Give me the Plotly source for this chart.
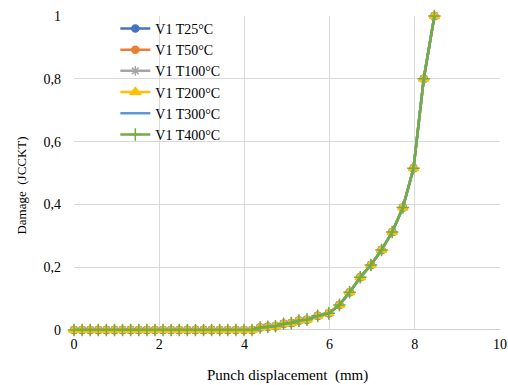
import plotly.graph_objects as go

displacement = [0, 0.19, 0.38, 0.57, 0.76, 0.95, 1.14, 1.33, 1.52, 1.71, 1.9, 2.09,
                2.28, 2.47, 2.66, 2.85, 3.04, 3.23, 3.42, 3.61, 3.8, 3.99, 4.18,
                4.37, 4.55, 4.73, 4.92, 5.1, 5.28, 5.47, 5.72, 5.98, 6.23, 6.47,
                6.72, 6.97, 7.22, 7.47, 7.72, 7.97, 8.21, 8.46]
damage = [0.0] * 23 + [0.008, 0.01, 0.012, 0.02, 0.022, 0.03, 0.033, 0.045, 0.053,
                       0.08, 0.12, 0.168, 0.207, 0.255, 0.312, 0.39, 0.515, 0.8, 1.0]

series_names = ["V1 T25°C", "V1 T50°C", "V1 T100°C", "V1 T200°C", "V1 T300°C", "V1 T400°C"]
series_values = [damage, damage, damage, damage, damage, damage]
colors = ["#4472C4", "#ED7D31", "#A5A5A5", "#FFC000", "#5B9BD5", "#70AD47"]
symbols = ["circle", "circle", "asterisk-open", "triangle-up", None, "cross-thin-open"]
sizes = [7, 7, 8, 9, 0, 9]

fig = go.Figure()
for name, vals, col, sym, sz in zip(series_names, series_values, colors, symbols, sizes):
    if sym is None:
        fig.add_trace(go.Scatter(x=displacement, y=vals, name=name, mode="lines",
                                 line=dict(color=col, width=2.5), cliponaxis=False))
    else:
        fig.add_trace(go.Scatter(x=displacement, y=vals, name=name, mode="lines+markers",
                                 line=dict(color=col, width=2.5),
                                 marker=dict(symbol=sym, size=sz, color=col,
                                             line=dict(color=col, width=1.5)),
                                 cliponaxis=False))

font_family = "Liberation Serif, Times New Roman, serif"
fig.update_layout(
    width=508, height=385,
    margin=dict(l=74, r=8, t=16, b=55),
    paper_bgcolor="white", plot_bgcolor="white",
    separators=", ",
    font=dict(family=font_family, size=14, color="#000"),
    showlegend=True,
    legend=dict(x=0.097, y=1.01, xanchor="left", yanchor="top",
                bgcolor="rgba(255,255,255,0)", font=dict(size=14, family=font_family, color="#000"),
                itemwidth=30, tracegroupgap=0),
    xaxis=dict(range=[0, 10], dtick=2, tick0=0, showgrid=True, gridcolor="#D9D9D9",
               gridwidth=1, zeroline=False, showline=False, ticks="",
               ticklabelstandoff=4, automargin=False,
               tickfont=dict(size=14, family=font_family, color="#000")),
    yaxis=dict(range=[0, 1], dtick=0.2, tick0=0, showgrid=True, gridcolor="#D9D9D9",
               gridwidth=1, zeroline=False, showline=False, ticks="",
               tickformat=".1~f", ticklabelstandoff=12, automargin=False,
               tickfont=dict(size=14, family=font_family, color="#000")),
    annotations=[
        dict(text="Punch displacement  (mm)", xref="paper", yref="paper", x=0.5, y=0,
             yshift=-45, xanchor="center", yanchor="middle", showarrow=False,
             font=dict(size=15, family=font_family, color="#000")),
        dict(text="Damage  (JCCKT)", xref="paper", yref="paper", x=0, y=0.46,
             xshift=-52, xanchor="center", yanchor="middle", textangle=-90, showarrow=False,
             font=dict(size=13, family=font_family, color="#000")),
    ],
)
fig.add_shape(type="line", xref="paper", yref="y", x0=0, x1=1, y0=0, y1=0,
              line=dict(color="#BFBFBF", width=1.5), layer="below")

fig.write_html("out.html",
               config={"displayModeBar": False, "responsive": False},
               post_script=("document.documentElement.style.overflow='hidden';"
                            "document.body.style.overflow='hidden';"
                            "document.body.style.margin='0';"))
